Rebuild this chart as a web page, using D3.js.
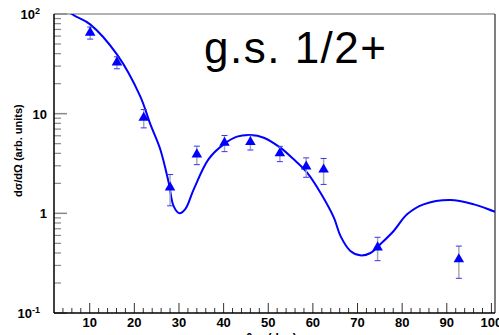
<!DOCTYPE html>
<html>
<head>
  <meta charset="utf-8" />
  <style>
    body { margin: 0; background: #fff; }
    text { font-family: "Liberation Sans", Arial, sans-serif; }
  </style>
</head>
<body>
  <svg id="container" width="499" height="335"></svg>
  <script src="https://cdnjs.cloudflare.com/ajax/libs/d3/7.8.5/d3.min.js"></script>
<script>
// measured points (angle in deg, cross section, symmetric error)
var angles = [10.1, 16.1, 22.1, 28.0, 34.0, 40.2, 46.0, 52.6, 58.5, 62.4, 74.5, 92.7];
var values = [65, 32.7, 9.1, 1.82, 3.9, 5.1, 5.2, 4.0, 2.95, 2.75, 0.455, 0.346];
var errors = [9, 4.5, 1.9, 0.63, 0.82, 0.94, 0.88, 0.70, 0.65, 0.80, 0.12, 0.123];

// calculation (blue curve)
var curveAngles = [3, 6.0, 10.1, 16.1, 21.3, 23.6, 25.8, 27.7, 28.8, 30.1, 31.4, 33.3, 36.6, 40.0, 43.0, 46.0, 49.0, 52.7, 55.7, 58.7, 61.7, 64.7, 66.2, 68.4, 70.6, 72.9, 75.1, 78.1, 81.1, 84.8, 90.8, 96.1, 100.5, 102];
var curveValues = [135, 100, 78.7, 39.3, 15, 7.8, 4.4, 2.03, 1.18, 1.0, 1.1, 1.74, 3.48, 4.92, 5.88, 6.1, 5.74, 4.56, 3.48, 2.56, 1.61, 0.906, 0.59, 0.419, 0.379, 0.40, 0.49, 0.665, 0.977, 1.23, 1.36, 1.23, 1.05, 1.0];

var xMajor = [10, 20, 30, 40, 50, 60, 70, 80, 90, 100];
var yMajor = [0.1, 1, 10, 100];
var yLabels = ['10', '1', '10', '10'];
var yExps = ['-1', '', '', '2'];
var title = 'g.s. 1/2+';

var svg = d3.select('#container');
var padL = 54, padR = 495, padT = 14, padB = 313;

var x = d3.scaleLinear().domain([2, 100.8]).range([padL, padR]);
var y = d3.scaleLog().domain([0.1, 100]).range([padB, padT]);

svg.append('clipPath').attr('id', 'plot')
  .append('rect').attr('x', padL).attr('y', padT)
  .attr('width', padR - padL).attr('height', padB - padT);

// frame
svg.append('line').attr('x1', padL).attr('x2', padR).attr('y1', padT).attr('y2', padT)
  .attr('stroke', '#999').attr('stroke-width', 1.5);
svg.append('line').attr('x1', padR).attr('x2', padR).attr('y1', padT).attr('y2', padB)
  .attr('stroke', '#555').attr('stroke-width', 1.5);

// x ticks
var xMinor = d3.range(4, 101, 2).filter(function (d) { return d % 10 !== 0; });
svg.selectAll('.xminor').data(xMinor).enter().append('line')
  .attr('x1', function (d) { return x(d); }).attr('x2', function (d) { return x(d); })
  .attr('y1', padB).attr('y2', padB - 5)
  .attr('stroke', '#333').attr('stroke-width', 1);
svg.selectAll('.xmajor').data(xMajor).enter().append('line')
  .attr('x1', function (d) { return x(d); }).attr('x2', function (d) { return x(d); })
  .attr('y1', padB).attr('y2', padB - 10)
  .attr('stroke', '#333').attr('stroke-width', 1);
svg.selectAll('.xlab').data(xMajor).enter().append('text')
  .attr('x', function (d) { return x(d); }).attr('y', padB + 14)
  .attr('text-anchor', 'middle').attr('font-size', 13).attr('font-weight', 'bold')
  .text(function (d) { return d; });

// y ticks
var yMinor = [];
[0.1, 1, 10].forEach(function (dec) {
  for (var k = 2; k <= 9; k++) yMinor.push(dec * k);
});
svg.selectAll('.yminor').data(yMinor).enter().append('line')
  .attr('x1', padL).attr('x2', padL + 7)
  .attr('y1', function (d) { return y(d); }).attr('y2', function (d) { return y(d); })
  .attr('stroke', '#888').attr('stroke-width', 1.2);
svg.selectAll('.ymajor').data(yMajor).enter().append('line')
  .attr('x1', padL).attr('x2', padL + 13)
  .attr('y1', function (d) { return y(d); }).attr('y2', function (d) { return y(d); })
  .attr('stroke', '#888').attr('stroke-width', 1.5);
var ylab = svg.selectAll('.ylab').data(yMajor).enter().append('text')
  .attr('x', function (d, i) { return yExps[i] ? padL - 14 : padL - 7; })
  .attr('y', function (d) { return y(d) + 5; })
  .attr('text-anchor', 'end').attr('font-size', 13).attr('font-weight', 'bold');
ylab.append('tspan').text(function (d, i) { return yLabels[i]; });
ylab.append('tspan').attr('font-size', 9).attr('dy', -5)
  .text(function (d, i) { return yExps[i]; });

// axis lines
svg.append('line').attr('x1', padL).attr('x2', padL).attr('y1', padT).attr('y2', padB)
  .attr('stroke', '#000').attr('stroke-width', 1.5);
svg.append('line').attr('x1', padL).attr('x2', padR).attr('y1', padB).attr('y2', padB)
  .attr('stroke', '#000').attr('stroke-width', 1.5);

// axis titles
svg.append('text').attr('transform', 'translate(22,197) rotate(-90)')
  .attr('font-size', 11).attr('font-weight', 'bold')
  .text('d\u03c3/d\u03a9 (arb. units)');
var xt = svg.append('text').attr('x', 246).attr('y', 342)
  .attr('font-size', 12).attr('font-weight', 'bold');
xt.append('tspan').text('\u03b8');
xt.append('tspan').attr('font-size', 8).attr('dy', 3).text('cm');
xt.append('tspan').attr('dy', -3).text(' (deg)');

// curve
var line = d3.line()
  .x(function (d, i) { return x(curveAngles[i]); })
  .y(function (d) { return y(d); })
  .curve(d3.curveCatmullRom);
svg.append('path').datum(curveValues)
  .attr('clip-path', 'url(#plot)')
  .attr('d', line)
  .attr('fill', 'none').attr('stroke', '#0000ff').attr('stroke-width', 2);

// error bars
var pts = svg.append('g').attr('clip-path', 'url(#plot)');
pts.selectAll('.err').data(values).enter().append('line')
  .attr('x1', function (d, i) { return x(angles[i]); })
  .attr('x2', function (d, i) { return x(angles[i]); })
  .attr('y1', function (d, i) { return y(d + errors[i]); })
  .attr('y2', function (d, i) { return y(d - errors[i]); })
  .attr('stroke', '#aaa').attr('stroke-width', 1.5);
[1, -1].forEach(function (s) {
  pts.selectAll('.cap' + s).data(values).enter().append('line')
    .attr('x1', function (d, i) { return x(angles[i]) - 3; })
    .attr('x2', function (d, i) { return x(angles[i]) + 3; })
    .attr('y1', function (d, i) { return y(d + s * errors[i]); })
    .attr('y2', function (d, i) { return y(d + s * errors[i]); })
    .attr('stroke', '#3333ff').attr('stroke-width', 1);
});

// markers
var tri = d3.symbol().type(d3.symbolTriangle).size(48);
pts.selectAll('.mk').data(values).enter().append('path')
  .attr('d', tri)
  .attr('transform', function (d, i) { return 'translate(' + x(angles[i]) + ',' + y(d) + ')'; })
  .attr('fill', '#0000ff');

// label
svg.append('text').attr('x', 204).attr('y', 63)
  .attr('font-size', 44).attr('textLength', 182)
  .text(title);
</script>
</body>
</html>
